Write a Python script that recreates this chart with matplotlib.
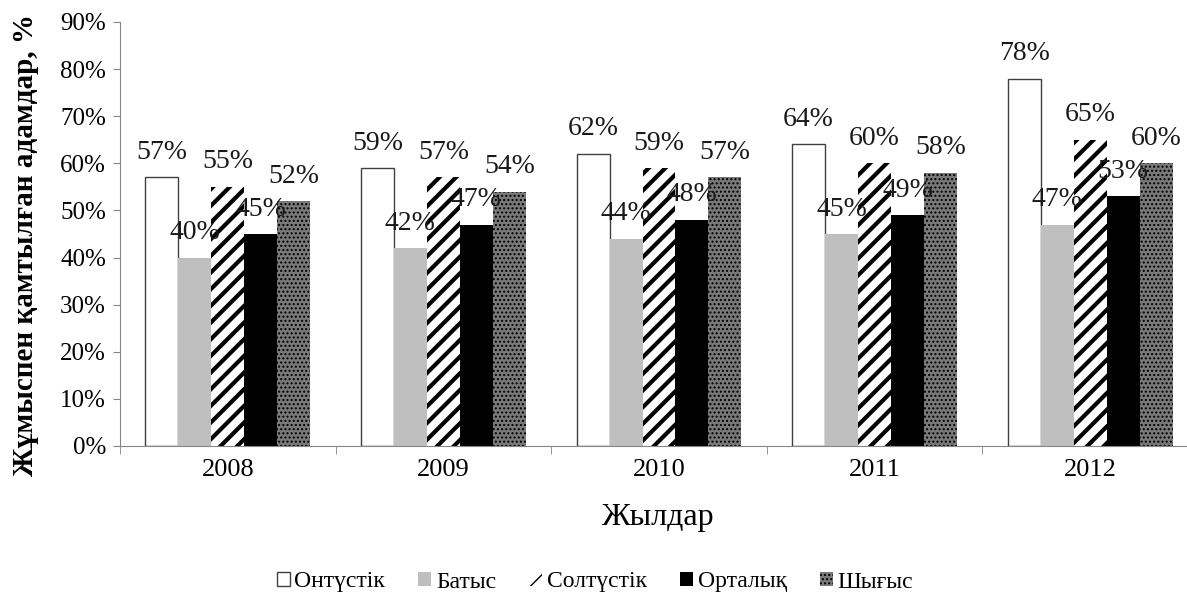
import matplotlib
matplotlib.use("Agg")
import matplotlib.pyplot as plt
import numpy as np
from matplotlib.patches import Patch

plt.rcParams['font.family'] = ['Liberation Serif', 'DejaVu Serif']

years = ['2008', '2009', '2010', '2011', '2012']
series_names = ['Онтүстік', 'Батыс', 'Солтүстік', 'Орталық', 'Шығыс']
ontustik = [57, 59, 62, 64, 78]
batys = [40, 42, 44, 45, 47]
soltustik = [55, 57, 59, 60, 65]
ortalyk = [45, 47, 48, 49, 53]
shygys = [52, 54, 57, 58, 60]
values = [ontustik, batys, soltustik, ortalyk, shygys]

styles = [
    dict(facecolor='white', edgecolor='#404040', linewidth=1.0, hatch=None, hlw=1.0),
    dict(facecolor='#bfbfbf', edgecolor='black', linewidth=0, hatch=None, hlw=1.0),
    dict(facecolor='white', edgecolor='black', linewidth=0, hatch='//', hlw=3.0),
    dict(facecolor='black', edgecolor='black', linewidth=0, hatch=None, hlw=1.0),
    dict(facecolor='#7a7a7a', edgecolor='black', linewidth=0, hatch='....', hlw=1.0),
]

fig = plt.figure(figsize=(11.87, 6.01), dpi=100)
ax = fig.add_axes([120/1187, 155/601, 5*215.6/1187, 424/601])

x = np.arange(len(years))
bw = 0.153
offsets = (np.arange(5) - 2) * bw
for i, (vals, st) in enumerate(zip(values, styles)):
    bars = ax.bar(x + offsets[i], np.array(vals) / 100, bw, facecolor=st['facecolor'],
                  edgecolor=st['edgecolor'], linewidth=st['linewidth'], hatch=st['hatch'],
                  label=series_names[i])
    for b in bars:
        if hasattr(b, 'set_hatch_linewidth'):
            b.set_hatch_linewidth(st['hlw'])
    for xi, v in zip(x + offsets[i], vals):
        ax.annotate(f'{v}%', (xi, v / 100), xytext=(0, 25), textcoords='offset pixels',
                    ha='center', va='center', fontsize=20, color='#1a1a1a')

ax.set_xlim(-0.5, len(years) - 0.5)
ax.set_ylim(0, 0.9)
ax.set_yticks(np.arange(0, 0.91, 0.1))
ax.set_yticklabels([f'{int(round(t*100))}%' for t in np.arange(0, 0.91, 0.1)], fontsize=18)
ax.set_xticks(x)
ax.set_xticklabels(years, fontsize=19)
ax.set_xticks(np.arange(-0.5, len(years), 1), minor=True)
ax.tick_params(axis='x', which='major', length=0, pad=9)
ax.tick_params(axis='x', which='minor', length=6, color='#868686', direction='out')
ax.tick_params(axis='y', length=5, color='#868686', direction='out', pad=5)
for s in ['top', 'right']:
    ax.spines[s].set_visible(False)
for s in ['left', 'bottom']:
    ax.spines[s].set_color('#868686')

ax.set_xlabel('Жылдар', fontsize=23)
ax.xaxis.set_label_coords((657 - 120) / (5 * 215.6), -(517 - 446) / 424)
ax.xaxis.label.set_va('center')
ax.set_ylabel('Жұмыспен қамтылған адамдар, %', fontsize=21, fontweight='bold')
ax.yaxis.set_label_coords(-(120 - 25) / (5 * 215.6), (446 - 245) / 424)
ax.yaxis.label.set_va('center')

handles = []
for st, name in zip(styles, series_names):
    h = Patch(facecolor=st['facecolor'], edgecolor=st['edgecolor'],
              linewidth=st['linewidth'], hatch=st['hatch'], label=name)
    handles.append(h)
leg = fig.legend(handles=handles, loc='center', bbox_to_anchor=(595/1187, 1 - 582/601), ncol=5,
                 frameon=False, fontsize=17, handlelength=0.55, handleheight=0.55,
                 handletextpad=0.2, columnspacing=1.4)

fig.savefig('out.png', dpi=100)
